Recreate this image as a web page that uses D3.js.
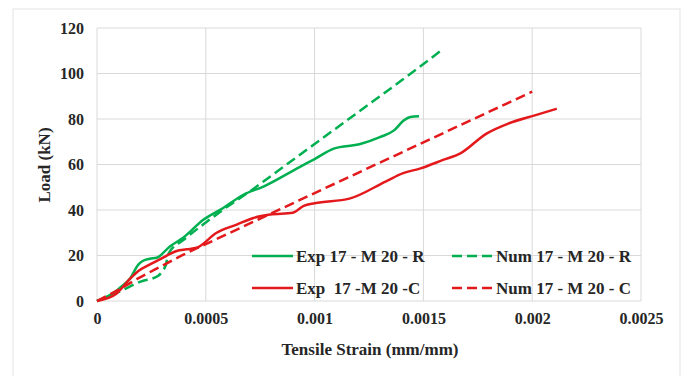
<!DOCTYPE html>
<html>
<head>
<meta charset="utf-8">
<script src="https://cdn.jsdelivr.net/npm/d3@7"></script>
<style>
  body { margin: 0; background: #fff; }
  text { font-family: "Liberation Serif", "Times New Roman", serif; font-weight: bold; fill: #262626; }
</style>
</head>
<body>
<script>
'use strict'

let width = 684
let height = 376
let margin = { top: 28, right: 43, bottom: 75, left: 97 }

// tick labels
let xTicks = [0, 0.0005, 0.001, 0.0015, 0.002, 0.0025]
let yTicks = [0, 20, 40, 60, 80, 100, 120]

// series : [strain, load]
let expR = [[0,0],[0.00008,3.8],[0.00012,7],[0.00015,9.6],[0.00019,16],[0.00021,17.6],[0.000243,18.6],
  [0.000274,19],[0.000335,24],[0.000396,27.8],[0.00049,35.8],[0.00058,40.9],[0.000673,46.7],[0.000765,50.3],
  [0.000933,59],[0.001,62.4],[0.001088,67],[0.00121,69],[0.0013,72],[0.001365,75],[0.00141,79.4],[0.00144,80.9],[0.00148,81.2]]
let numR = [[0,0],[0.0001,4],[0.0002,8.5],[0.00028,11],[0.0003,13],[0.000315,15.5],[0.00033,21],[0.0004,27],
  [0.0005,34.5],[0.0006,41.5],[0.0007,48],[0.0008,55],[0.001,69],[0.0012,83],[0.0014,97],[0.00158,110]]
let expC = [[0,0],[0.000089,3.2],[0.00015,9.6],[0.00019,13.2],[0.000235,15.7],[0.000289,18.3],[0.000366,22],
  [0.000412,22.7],[0.000458,23.4],[0.00055,30],[0.000642,33.6],[0.000719,36.5],[0.000796,38],[0.0009,38.8],
  [0.00095,41.8],[0.001,43],[0.00116,45],[0.001326,52.5],[0.001407,56.2],[0.001487,58.3],[0.00159,62],
  [0.00167,64.9],[0.00179,73.6],[0.00189,78],[0.002012,81.6],[0.002113,84.5]]
let numC = [[0,0],[0.0001,5],[0.0002,10.5],[0.0003,15.5],[0.0004,20.5],[0.0005,25],[0.002,92]]

let series = [
  { name: "Exp 17 - M 20 - R", data: expR, color: "#00b050", dash: null },
  { name: "Num 17 - M 20 - R", data: numR, color: "#00b050", dash: "10,5" },
  { name: "Exp  17 -M 20 -C", data: expC, color: "#e3191c", dash: null },
  { name: "Num 17 - M 20 - C", data: numC, color: "#e3191c", dash: "10,5" }
]

let svg = d3.select("body").append("svg")
  .attr("width", width)
  .attr("height", height)

// outer frame (bottom edge is cut off in the picture)
svg.append("rect")
  .attr("x", 13).attr("y", 9)
  .attr("width", 667).attr("height", 380)
  .attr("fill", "none")
  .attr("stroke", "#e3e3e3")

let x = d3.scaleLinear().domain([0, 0.0025]).range([margin.left, width - margin.right])
let y = d3.scaleLinear().domain([0, 120]).range([height - margin.bottom, margin.top])

//grid
svg.append("g").selectAll("line").data(yTicks).enter().append("line")
  .attr("x1", x(0)).attr("x2", x(0.0025))
  .attr("y1", d => y(d)).attr("y2", d => y(d))
  .attr("stroke", "#d9d9d9")
svg.append("g").selectAll("line").data(xTicks).enter().append("line")
  .attr("x1", d => x(d)).attr("x2", d => x(d))
  .attr("y1", y(0)).attr("y2", y(120))
  .attr("stroke", "#d9d9d9")

// axes (labels only)
let xAxis = d3.axisBottom(x).tickValues(xTicks).tickSize(0).tickPadding(12).tickFormat(d => d === 0 ? "0" : String(d))
let yAxis = d3.axisLeft(y).tickValues(yTicks).tickSize(0).tickPadding(13)

let gx = svg.append("g").attr("transform", "translate(0," + y(0) + ")").call(xAxis)
let gy = svg.append("g").attr("transform", "translate(" + x(0) + ",0)").call(yAxis)
gx.select(".domain").remove()
gy.select(".domain").remove()
svg.selectAll(".tick text")
  .attr("font-family", "Liberation Serif")
  .attr("font-size", 16)
  .attr("font-weight", "bold")
  .attr("fill", "#262626")

// titles
svg.append("text")
  .attr("text-anchor", "middle")
  .attr("transform", "translate(" + 370 + "," + 355 + ")")
  .style("font-size", "17px")
  .text("Tensile Strain (mm/mm)")

svg.append("text")
  .attr("text-anchor", "middle")
  .attr("transform", "translate(" + 50 + "," + 165 + ")rotate(-90)")
  .style("font-size", "17px")
  .text("Load (kN)")

// lines
let line = d3.line().x(d => x(d[0])).y(d => y(d[1])).curve(d3.curveMonotoneX)

svg.append("g").selectAll("path").data(series).enter().append("path")
  .attr("d", d => line(d.data))
  .attr("fill", "none")
  .attr("stroke", d => d.color)
  .attr("stroke-width", 2.5)
  .attr("stroke-dasharray", d => d.dash)

// legend
let legend = svg.append("g").selectAll("g").data(series).enter().append("g")
  .attr("transform", (d, i) => "translate(" + (252 + (i % 2) * 200) + "," + (256 + Math.floor(i / 2) * 32) + ")")

legend.append("line")
  .attr("x1", 0).attr("x2", 41)
  .attr("stroke", d => d.color)
  .attr("stroke-width", 2.5)
  .attr("stroke-dasharray", d => d.dash)

legend.append("text")
  .attr("x", 44)
  .attr("dy", "0.35em")
  .style("font-size", "17px")
  .style("white-space", "pre")
  .text(d => d.name)
</script>
</body>
</html>
